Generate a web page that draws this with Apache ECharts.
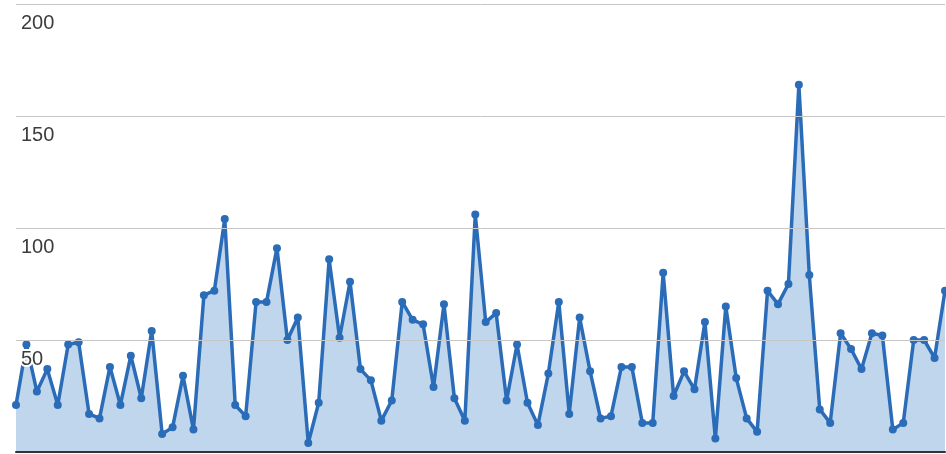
<!DOCTYPE html>
<html>
<head>
<meta charset="utf-8">
<script src="https://cdn.jsdelivr.net/npm/echarts@6/dist/echarts.min.js"></script>
<style>
  html, body { margin: 0; padding: 0; background: #fff; }
  #chart { width: 946px; height: 454px; }
</style>
</head>
<body>
<div id="chart"></div>
<script>
// Category index (x positions are not labelled in the reference)
const categories = Array.from({ length: 90 }, (_, i) => String(i + 1));

// Series values
const values = [
  21, 48, 27, 37, 21, 48, 49, 17, 15, 38,
  21, 43, 24, 54, 8, 11, 34, 10, 70, 72,
  104, 21, 16, 67, 67, 91, 50, 60, 4, 22,
  86, 51, 76, 37, 32, 14, 23, 67, 59, 57,
  29, 66, 24, 14, 106, 58, 62, 23, 48, 22,
  12, 35, 67, 17, 60, 36, 15, 16, 38, 38,
  13, 13, 80, 25, 36, 28, 58, 6, 65, 33,
  15, 9, 72, 66, 75, 164, 79, 19, 13, 53,
  46, 37, 53, 52, 10, 13, 50, 50, 42, 72
];

// Y axis ticks
const yMin = 0;
const yMax = 200;
const yInterval = 50;

const chart = echarts.init(document.getElementById('chart'), null, { renderer: 'canvas' });
chart.setOption({
  animation: false,
  backgroundColor: '#ffffff',
  grid: { left: 16, right: 1, top: 4, bottom: 2, containLabel: false },
  xAxis: {
    type: 'category',
    data: categories,
    boundaryGap: false,
    z: 10,
    axisLine: { show: true, lineStyle: { color: '#333333', width: 2 } },
    axisTick: { show: false },
    axisLabel: { show: false },
    splitLine: { show: false }
  },
  yAxis: {
    type: 'value',
    min: yMin,
    max: yMax,
    interval: yInterval,
    z: 10,
    axisLine: { show: false },
    axisTick: { show: false },
    splitLine: { show: true, lineStyle: { color: '#c6c6c6', width: 1 } },
    axisLabel: {
      inside: true,
      margin: 5,
      showMinLabel: false,
      fontFamily: 'Liberation Sans, Arial, sans-serif',
      fontSize: 20,
      color: '#3c3c3c',
      verticalAlign: 'top',
      align: 'left',
      padding: [9, 0, 0, 0],
      textBorderColor: '#ffffff',
      textBorderWidth: 4
    }
  },
  series: [{
    type: 'line',
    data: values,
    z: 2,
    symbol: 'circle',
    symbolSize: 8,
    showAllSymbol: true,
    lineStyle: { color: '#2b6cb8', width: 3.5 },
    itemStyle: { color: '#2b6cb8' },
    areaStyle: { color: '#3a7fc8', opacity: 0.32 }
  }]
});
</script>
</body>
</html>
